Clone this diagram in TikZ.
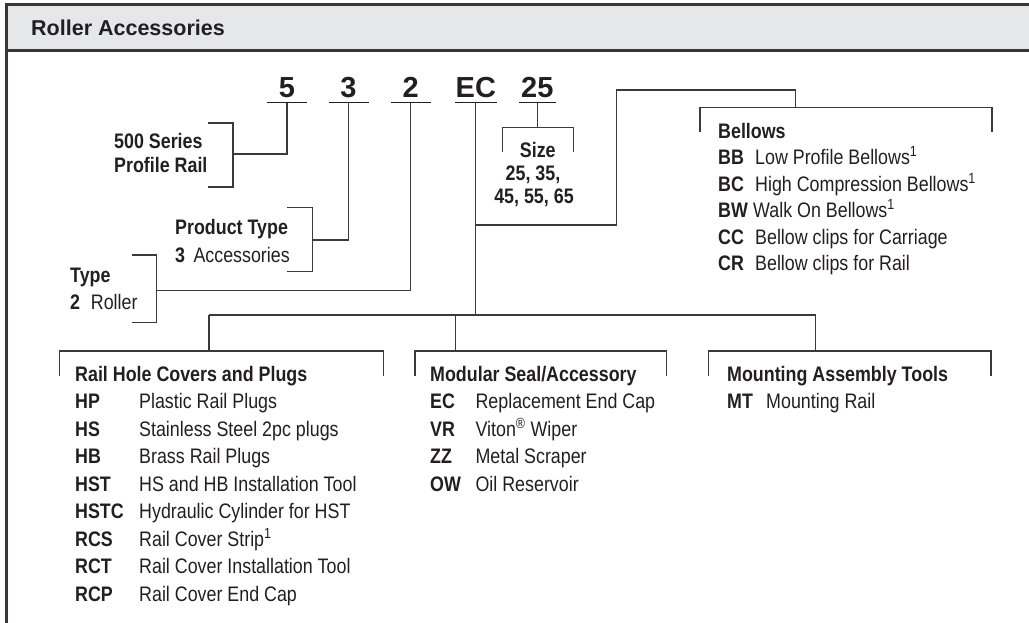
\documentclass[tikz,border=0pt]{standalone}
\usepackage{fontspec}
\setmainfont{Liberation Sans}
\newfontfamily\cf[FakeStretch=0.85]{Liberation Sans}
\definecolor{hdrgray}{HTML}{E6E7E8}
\definecolor{ink}{HTML}{231F20}
\definecolor{lncol}{HTML}{3A3A3A}
\tikzset{
  ln/.style={draw=lncol, line width=1.2pt},
  uline/.style={draw=ink, line width=1.7pt},
  frameline/.style={draw=ink!90, line width=3pt},
  codetxt/.style={font=\fontsize{29}{30}\selectfont\bfseries, text=ink, inner sep=0pt, anchor=base},
  lbl/.style={font=\cf\fontsize{21}{25}\selectfont, text=ink, inner sep=0pt, anchor=base west},
  blbl/.style={font=\cf\fontsize{21}{25}\selectfont\bfseries, text=ink, inner sep=0pt, anchor=base west},
  clbl/.style={font=\cf\fontsize{21}{25}\selectfont\bfseries, text=ink, inner sep=0pt, anchor=base},
  hdrtxt/.style={font=\fontsize{21.5}{25}\selectfont\bfseries, text=ink, inner sep=0pt, anchor=base west}
}
\begin{document}
\begin{tikzpicture}[x=1pt,y=-1pt]
\useasboundingbox (0,0) rectangle (1029,622);
% frame and header
\fill[hdrgray] (6.5,4.5) rectangle (1035,50.7);
\draw[frameline] (1035,4.5) -- (6.5,4.5) -- (6.5,630);
\draw[frameline, line width=2.5pt] (6.5,50.7) -- (1035,50.7);
\node[hdrtxt] (title) at (31,35) {Roller Accessories};

% part number codes with underlines
\foreach \n/\x/\w in {5/287/20, 3/348.5/20, 2/410.7/20, EC/475.8/21, 25/537.3/18.5}{
  \node[codetxt] (c\n) at (\x,97.5) {\n};
  \coordinate (u\n) at (\x,102.5);
  \draw[uline] (u\n) ++(-\w,0) -- ++(2*\w,0);
}

% 500 Series
\coordinate (b1m) at (233,154);
\draw[ln] (208,123) -- (233,123) -- (233,187) -- (208,187);
\draw[ln] (u5) |- (b1m);
\node[blbl] (s500a) at (114,148) {500 Series};
\node[blbl] (s500b) at (114,172) {Profile Rail};

% Product type
\coordinate (b2m) at (312.3,240);
\draw[ln] (287.3,207.7) -- (312.3,207.7) -- (312.3,271.7) -- (287.3,271.7);
\draw[ln] (u3) |- (b2m);
\node[blbl] (pt) at (175,234) {Product Type};
\node[blbl] (pt3) at (175,262) {3};
\node[lbl] (pt3d) at (193.3,262) {Accessories};

% Type
\coordinate (b3m) at (156.7,290.7);
\draw[ln] (132.3,255) -- (156.7,255) -- (156.7,322.3) -- (132.3,322.3);
\draw[ln] (u2) |- (b3m);
\node[blbl] (ty) at (70,282) {Type};
\node[blbl] (ty2) at (70,309.3) {2};
\node[lbl] (ty2d) at (90.7,309.3) {Roller};

% Size
\coordinate (sizem) at (537.3,127.7);
\draw[ln] (u25) -- (sizem);
\draw[ln] (502.3,151.7) -- (502.3,127.7) -- (573.3,127.7) -- (573.3,151.7);
\node[clbl] (sz) at (537.8,157) {Size};
\node[clbl] (sz1) at (533,180) {25, 35,};
\node[clbl] (sz2) at (534,203) {45, 55, 65};

% Bellows
\coordinate (ecside) at (475.8,225);
\coordinate (bellm) at (795.5,107.5);
\draw[ln] (ecside) -- (616.5,225) -- (616.5,90) -- (795.5,90) -- (bellm);
\draw[ln] (700,131.7) -- (700,107.5) -- (992,107.5) -- (992,131.7);
\node[blbl] (bel) at (718,138) {Bellows};
\foreach \c/\d/\dx [count=\i] in {BB/Low Profile Bellows\textsuperscript{1}/755,
    BC/High Compression Bellows\textsuperscript{1}/755,
    BW/Walk On Bellows\textsuperscript{1}/753,
    CC/Bellow clips for Carriage/755,
    CR/Bellow clips for Rail/755}{
  \node[blbl] (bel\i c) at (718,138+26.5*\i) {\c};
  \node[lbl] (bel\i d) at (\dx,138+26.5*\i) {\d};
}

% bus
\coordinate (busEC) at (475.8,315);
\draw[ln] (uEC) -- (busEC);
\draw[ln] (209,315) -- (815.7,315);
\coordinate (gL) at (209,351);
\coordinate (gM) at (455.7,351);
\coordinate (gR) at (815.7,351);
\draw[ln] (209,315) -- (gL);
\draw[ln] (455.7,315) -- (gM);
\draw[ln] (815.7,315) -- (gR);
\draw[ln] (59.3,376) -- (59.3,351) -- (383.3,351) -- (383.3,376);
\draw[ln] (415,376) -- (415,351) -- (666.7,351) -- (666.7,376);
\draw[ln] (708.3,376) -- (708.3,351) -- (991,351) -- (991,376);

% Rail hole covers
\node[blbl] (rh) at (75,381) {Rail Hole Covers and Plugs};
\foreach \c/\d [count=\i] in {HP/Plastic Rail Plugs,
    HS/Stainless Steel 2pc plugs,
    HB/Brass Rail Plugs,
    HST/HS and HB Installation Tool,
    HSTC/Hydraulic Cylinder for HST,
    RCS/Rail Cover Strip\textsuperscript{1},
    RCT/Rail Cover Installation Tool,
    RCP/Rail Cover End Cap}{
  \node[blbl] (rh\i c) at (75,381+27.5*\i) {\c};
  \node[lbl] (rh\i d) at (139,381+27.5*\i) {\d};
}

% Modular seal
\node[blbl] (ms) at (430,381) {Modular Seal/Accessory};
\foreach \c/\d [count=\i] in {EC/Replacement End Cap,
    VR/Viton\textsuperscript{\textregistered} Wiper,
    ZZ/Metal Scraper,
    OW/Oil Reservoir}{
  \node[blbl] (ms\i c) at (430,381+27.5*\i) {\c};
  \node[lbl] (ms\i d) at (475.4,381+27.5*\i) {\d};
}

% Mounting
\node[blbl] (mt) at (727,381) {Mounting Assembly Tools};
\node[blbl] (mt1c) at (727,408.5) {MT};
\node[lbl] (mt1d) at (766,408.5) {Mounting Rail};
\end{tikzpicture}
\end{document}
